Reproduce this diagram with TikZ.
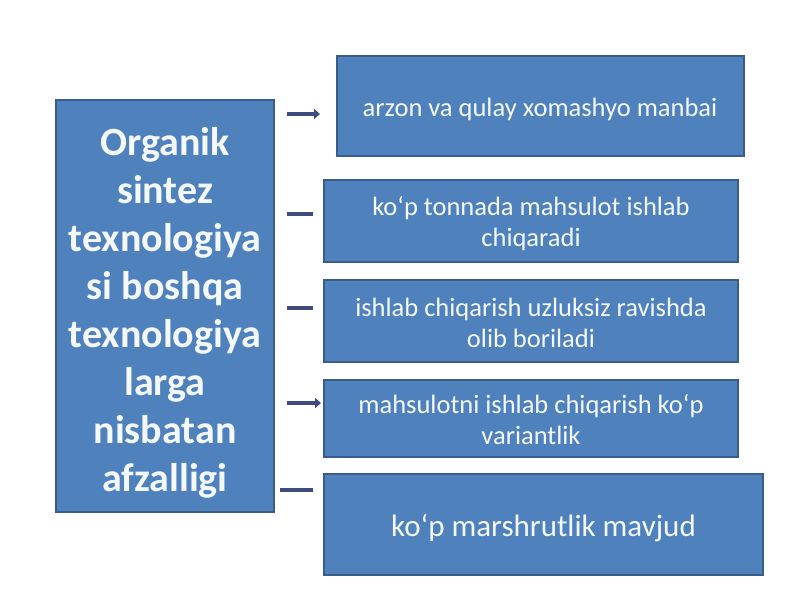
\documentclass[tikz,border=0pt]{standalone}
\usepackage{fontspec}
\setmainfont{Carlito}
\usetikzlibrary{arrows.meta}
\definecolor{boxfill}{HTML}{4F81BD}
\definecolor{boxedge}{HTML}{385D8A}
\definecolor{arrcol}{HTML}{3E4B7C}
\definecolor{txtcol}{HTML}{F4F9FF}
\tikzset{
  bluebox/.style={draw=boxedge, line width=1.2pt, fill=boxfill, text=txtcol, align=center, inner sep=0pt},
  boxtext/.style={text=txtcol, align=center, inner sep=0pt},
  smalltxt/.style={font=\fontsize{26.5}{31}\selectfont},
  conn/.style={draw=arrcol, line width=3.5pt},
  connhead/.style={conn, -{Triangle[length=6pt,width=10pt]}}
}
\begin{document}
\begin{tikzpicture}[x=1pt,y=-1pt]
\useasboundingbox (0,0) rectangle (800,600);
\fill[white] (0,0) rectangle (800,600);
% left box
\node[bluebox, minimum width=218pt, minimum height=412pt] (main) at (165,306) {};
\node[boxtext, font=\bfseries\fontsize{40}{48}\selectfont] (maintxt) at (165,313)
  {Organik\\sintez\\texnologiya\\si boshqa\\texnologiya\\larga\\nisbatan\\afzalligi};
% right boxes
\node[bluebox, minimum width=407pt, minimum height=100pt] (b1) at (540.5,106) {};
\node[boxtext, smalltxt] (t1) at (540,109) {arzon va qulay xomashyo manbai};
\node[bluebox, minimum width=414pt, minimum height=82pt] (b2) at (531,221) {};
\node[boxtext, smalltxt] (t2) at (531,224) {ko‘p tonnada mahsulot ishlab\\chiqaradi};
\node[bluebox, minimum width=414pt, minimum height=82pt] (b3) at (531,321) {};
\node[boxtext, smalltxt] (t3) at (531,323) {ishlab chiqarish uzluksiz ravishda\\olib boriladi};
\node[bluebox, minimum width=414pt, minimum height=77pt] (b4) at (531,418.5) {};
\node[boxtext, smalltxt] (t4) at (531,420) {mahsulotni ishlab chiqarish ko‘p\\variantlik};
\node[bluebox, minimum width=439pt, minimum height=101pt] (b5) at (543.5,524.5) {};
\node[boxtext, font=\fontsize{31}{36}\selectfont] (t5) at (543.5,528) {ko‘p marshrutlik mavjud};
% connectors (short, free-standing)
\coordinate (a1s) at (287,114); \coordinate (a1e) at (320,114);
\coordinate (a2s) at (287,214); \coordinate (a2e) at (313,214);
\coordinate (a3s) at (287,308); \coordinate (a3e) at (313,308);
\coordinate (a4s) at (287,403); \coordinate (a4e) at (321,403);
\coordinate (a5s) at (280,490); \coordinate (a5e) at (313,490);
\draw[connhead] (a1s) -- (a1e);
\draw[conn] (a2s) -- (a2e);
\draw[conn] (a3s) -- (a3e);
\draw[connhead] (a4s) -- (a4e);
\draw[conn] (a5s) -- (a5e);
\end{tikzpicture}
\end{document}
